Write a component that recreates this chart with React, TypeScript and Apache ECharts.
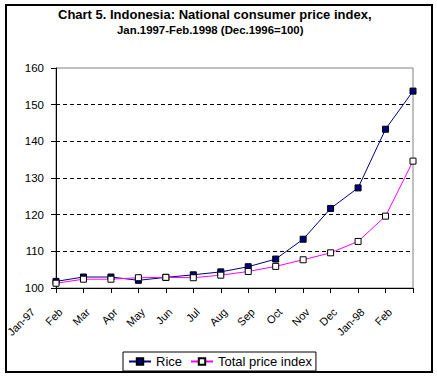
import React, { useEffect, useRef } from "react";
import * as echarts from "echarts";

const months = ["Jan-97", "Feb", "Mar", "Apr", "May", "Jun", "Jul", "Aug", "Sep", "Oct", "Nov", "Dec", "Jan-98", "Feb"];
const rice = [101.8, 103.0, 103.0, 102.1, 102.9, 103.6, 104.4, 105.8, 107.9, 113.3, 121.7, 127.3, 143.3, 153.7];
const total = [101.3, 102.4, 102.4, 102.8, 102.9, 102.8, 103.5, 104.5, 105.9, 107.7, 109.6, 112.7, 119.6, 134.6];
const titleText = "Chart 5. Indonesia: National consumer price index,";
const subtitleText = "Jan.1997-Feb.1998 (Dec.1996=100)";
const seriesNames = ["Rice", "Total price index"];

const FONT = "'Liberation Sans', Arial, sans-serif";

export default function App() {
  const ref = useRef<HTMLDivElement>(null);
  useEffect(() => {
    document.body.style.margin = "0";
    if (!ref.current) return;
    const chart = echarts.init(ref.current, null, { renderer: "svg" });
    const cats = months.map((_, i) => String(i));
    chart.setOption({
      animation: false,
      backgroundColor: "#fff",
      textStyle: { fontFamily: FONT, color: "#000" },
      title: [
        { text: titleText, left: 58, top: 8, padding: 0, textStyle: { fontFamily: FONT, fontSize: 13, fontWeight: "bold", color: "#000" } },
        { text: subtitleText, left: 117, top: 24, padding: 0, textStyle: { fontFamily: FONT, fontSize: 11.4, fontWeight: "bold", color: "#000" } },
      ],
      graphic: [
        { type: "rect", shape: { x: 6, y: 5, width: 426, height: 367 }, style: { fill: "none", stroke: "#000", lineWidth: 2 }, z: 100 },
      ],
      legend: {
        data: seriesNames,
        left: 123,
        top: 352,
        orient: "horizontal",
        itemWidth: 22,
        itemHeight: 8,
        itemGap: 8,
        padding: [3, 4, 3, 5],
        borderColor: "#000",
        borderWidth: 1,
        backgroundColor: "#fff",
        textStyle: { fontFamily: FONT, fontSize: 13, color: "#000" },
      },
      grid: [
        { left: 56, top: 68, width: 357, height: 220, show: true, borderColor: "#808080", borderWidth: 1, backgroundColor: "transparent" },
        { left: 33, top: 68, width: 357, height: 220, show: false },
      ],
      xAxis: [
        {
          type: "category",
          gridIndex: 0,
          data: cats,
          boundaryGap: false,
          axisLine: { lineStyle: { color: "#000", width: 1 } },
          axisTick: { show: true, interval: 0, length: 5, lineStyle: { color: "#000" } },
          axisLabel: { show: false },
          splitLine: { show: false },
        },
        {
          type: "category",
          gridIndex: 1,
          data: cats,
          boundaryGap: false,
          axisLine: { show: false },
          axisTick: { show: false },
          axisLabel: {
            show: true,
            interval: 0,
            rotate: 45,
            margin: 22,
            fontFamily: FONT,
            fontSize: 11,
            color: "#000",
            formatter: (_v: string, i: number) => months[i],
          },
          splitLine: { show: false },
        },
      ],
      yAxis: [
        {
          type: "value",
          gridIndex: 0,
          min: 100,
          max: 160,
          interval: 10,
          axisLine: { show: true, lineStyle: { color: "#000", width: 1 } },
          axisTick: { show: true, length: 5, lineStyle: { color: "#000" } },
          axisLabel: { margin: 12, fontFamily: FONT, fontSize: 11.5, color: "#000" },
          splitLine: { show: true, showMinLine: false, showMaxLine: false, lineStyle: { color: "#000", type: [4, 3], width: 1 } },
        },
        { type: "value", gridIndex: 1, min: 0, max: 1, show: false },
      ],
      series: [
        {
          name: seriesNames[0],
          type: "line",
          xAxisIndex: 0,
          yAxisIndex: 0,
          data: rice,
          symbol: "rect",
          symbolSize: 6,
          showAllSymbol: true,
          lineStyle: { color: "#000080", width: 1 },
          itemStyle: { color: "#000080", borderColor: "#000", borderWidth: 1 },
          z: 3,
        },
        {
          name: seriesNames[1],
          type: "line",
          xAxisIndex: 0,
          yAxisIndex: 0,
          data: total,
          symbol: "rect",
          symbolSize: 6,
          showAllSymbol: true,
          lineStyle: { color: "#ff00ff", width: 1 },
          itemStyle: { color: "#fff", borderColor: "#000", borderWidth: 1 },
          z: 4,
        },
      ],
    });
    return () => chart.dispose();
  }, []);
  return <div ref={ref} style={{ width: 437, height: 379 }} />;
}
